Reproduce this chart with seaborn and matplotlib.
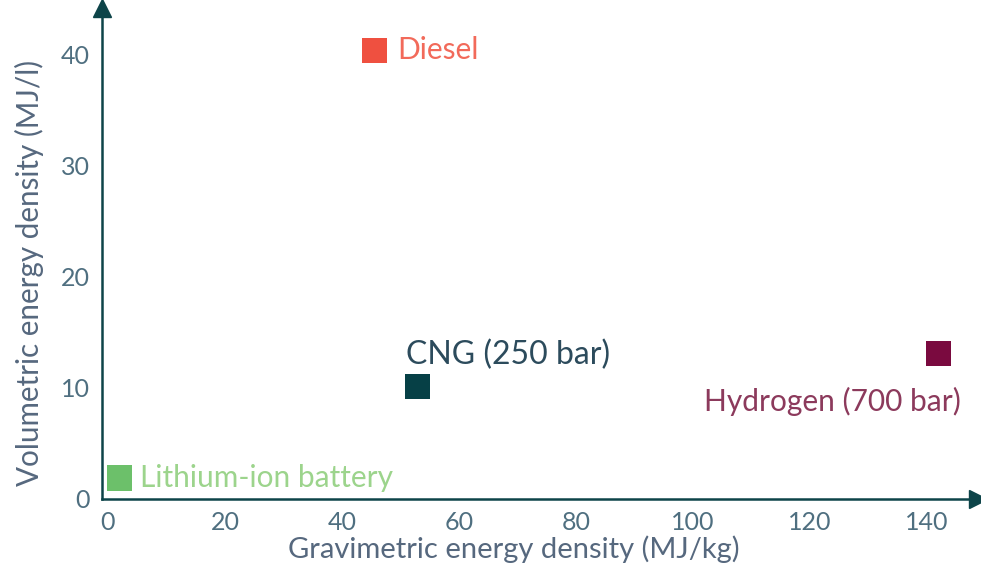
import matplotlib
matplotlib.use("Agg")
import matplotlib.pyplot as plt
import seaborn as sns
import pandas as pd

# DATA
fuels = ["Lithium-ion battery", "Diesel", "CNG (250 bar)", "Hydrogen (700 bar)"]
gravimetric = [2.0, 45.6, 52.9, 142.0]   # MJ/kg
volumetric = [1.9, 40.4, 10.1, 13.1]     # MJ/l
x_ticks = [0, 20, 40, 60, 80, 100, 120, 140]
y_ticks = [0, 10, 20, 30, 40]

marker_colors = ["#6cc06a", "#ef5040", "#064046", "#7a0a3f"]
text_colors = ["#9cd48c", "#f26a5a", "#2c4b5c", "#8c3a5c"]
# label offsets in points, alignment and size
offsets = [(14.5, 0), (16.5, 0), (-8, 23), (16, -34.5)]
aligns = ["left", "left", "left", "right"]
sizes = [21.5, 21.5, 23, 21.5]

df = pd.DataFrame({"fuel": fuels, "grav": gravimetric, "vol": volumetric})

sns.set_theme(style="white")
plt.rcParams["font.family"] = ["Lato", "DejaVu Sans"]

axis_col = "#0d4449"
tick_col = "#4f6f80"
label_col = "#56687e"

fig = plt.figure(figsize=(9.81, 5.72), dpi=100)
ax = fig.add_axes([102 / 981, 73 / 572, (978 - 102) / 981, (564 - 73) / 572])

sns.scatterplot(data=df, x="grav", y="vol", hue="fuel", palette=marker_colors,
                marker="s", s=330, edgecolor="none", legend=False, ax=ax)

for i, name in enumerate(fuels):
    ax.annotate(name, (gravimetric[i], volumetric[i]), xytext=offsets[i],
                textcoords="offset points", ha=aligns[i], va="center",
                fontsize=sizes[i], color=text_colors[i])

ax.set_xlim(-1, 148.7)
ax.set_ylim(0, 44.2)
ax.set_xticks(x_ticks)
ax.set_yticks(y_ticks)
ax.tick_params(axis="both", length=0, labelsize=18, colors=tick_col, pad=9)

for s in ["top", "right"]:
    ax.spines[s].set_visible(False)
for s in ["left", "bottom"]:
    ax.spines[s].set_color(axis_col)
    ax.spines[s].set_linewidth(1.8)

# arrow heads at the ends of the axes
ax.plot(1, 0, ">", color=axis_col, markersize=13, transform=ax.transAxes, clip_on=False)
ax.plot(0, 1, "^", color=axis_col, markersize=13, transform=ax.transAxes, clip_on=False)

ax.set_xlabel("Gravimetric energy density (MJ/kg)", fontsize=21, color=label_col)
ax.set_ylabel("Volumetric energy density (MJ/l)", fontsize=21.3, color=label_col)
ax.xaxis.set_label_coords(0.47, -0.075)
ax.yaxis.set_label_coords(-0.066, 0.46)

fig.savefig("out.png", dpi=100)
